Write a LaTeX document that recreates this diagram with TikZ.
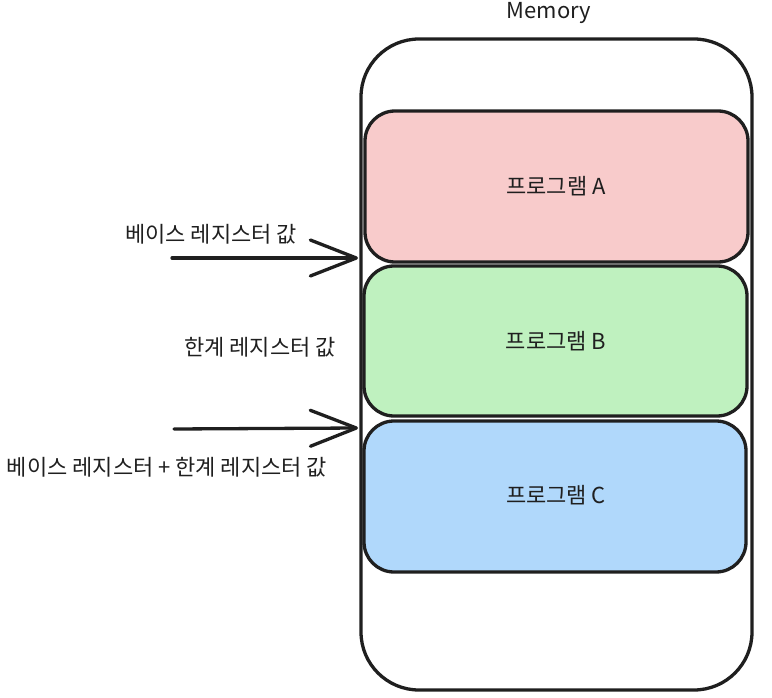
\documentclass[tikz,border=0pt]{standalone}
\usepackage{fontspec}
\setmainfont{Noto Sans CJK KR}
\usetikzlibrary{arrows.meta}
\begin{document}
\begin{tikzpicture}[x=1pt,y=-1pt,
  box/.style={draw=black!88,line width=3.3pt},
  lbl/.style={font=\fontsize{22}{26}\selectfont,text=black!88,inner sep=0pt},
  arr/.style={draw=black!88,line width=3.3pt,line cap=round,-{Straight Barb[length=46pt,width=36pt,line width=3.3pt,round]}}]
\useasboundingbox (0,0) rectangle (772,698);
\draw[box,rounded corners=58pt] (361,39) rectangle (752,690);
\node[lbl] (mem) at (549,13) {Memory};
\draw[box,fill={rgb,255:red,248;green,203;blue,203},rounded corners=30pt] (365,111) rectangle (748,262);
\node[lbl] (pa) at (556,186) {프로그램 A};
\draw[box,fill={rgb,255:red,191;green,241;blue,191},rounded corners=30pt] (364,266) rectangle (747,416);
\node[lbl] (pb) at (556,341) {프로그램 B};
\draw[box,fill={rgb,255:red,176;green,216;blue,251},rounded corners=30pt] (364,421) rectangle (746,572);
\node[lbl] (pc) at (556,495) {프로그램 C};
\coordinate (a1s) at (172,258);
\coordinate (a1e) at (358,258);
\draw[arr] (a1s) -- (a1e);
\coordinate (a2s) at (174,429);
\coordinate (a2e) at (358,428);
\draw[arr] (a2s) -- (a2e);
\node[lbl] (l1) at (211,234) {베이스 레지스터 값};
\node[lbl] (l2) at (260,347) {한계 레지스터 값};
\node[lbl] (l3) at (167,467) {베이스 레지스터 + 한계 레지스터 값};
\end{tikzpicture}
\end{document}
